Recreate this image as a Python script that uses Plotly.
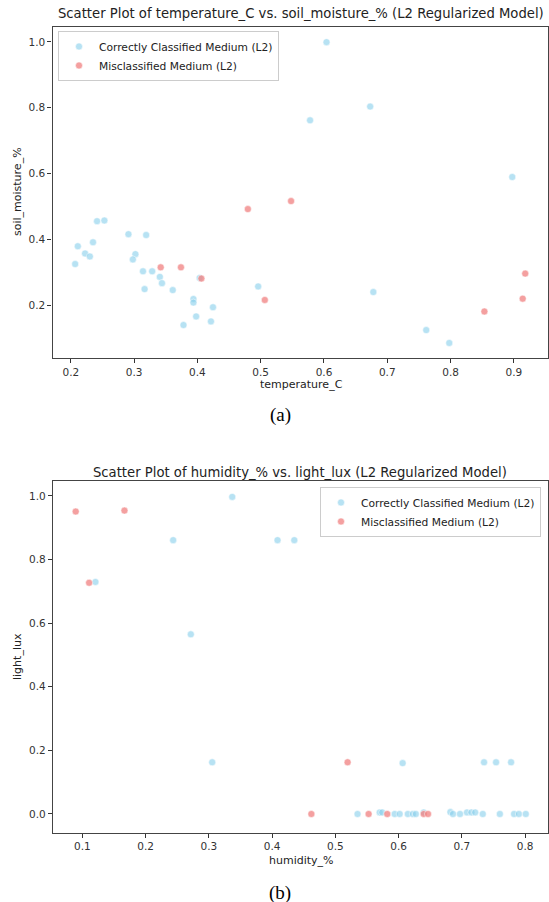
import plotly.graph_objects as go

# ---- Panel (a): temperature_C vs soil_moisture_% ----
a_correct_x = [0.2068, 0.211, 0.2225, 0.230, 0.235, 0.2414, 0.253, 0.291, 0.319, 0.302,
               0.298, 0.314, 0.3285, 0.3165, 0.3406, 0.344, 0.361, 0.3937, 0.3937, 0.398,
               0.4246, 0.4214, 0.378, 0.4036, 0.496, 0.604, 0.673, 0.578, 0.8975, 0.678,
               0.7616, 0.798]
a_correct_y = [0.326, 0.380, 0.358, 0.349, 0.392, 0.456, 0.458, 0.4165, 0.414, 0.356,
               0.340, 0.304, 0.304, 0.250, 0.287, 0.268, 0.247, 0.220, 0.209, 0.167,
               0.195, 0.152, 0.141, 0.284, 0.258, 0.999, 0.8036, 0.762, 0.590, 0.241,
               0.1257, 0.0866]
a_mis_x = [0.342, 0.374, 0.4063, 0.4797, 0.548, 0.5065, 0.8535, 0.918, 0.914]
a_mis_y = [0.316, 0.316, 0.282, 0.4927, 0.517, 0.217, 0.182, 0.297, 0.221]

# ---- Panel (b): humidity_% vs light_lux ----
b_correct_x = [0.1206, 0.2435, 0.3369, 0.4085, 0.435, 0.2714, 0.3052, 0.6063, 0.735, 0.754,
               0.7777, 0.535, 0.570, 0.574, 0.5937, 0.6016, 0.6145, 0.6224, 0.6271, 0.6396,
               0.6818, 0.6859, 0.697, 0.708, 0.715, 0.721, 0.733, 0.760, 0.7825, 0.790, 0.801]
b_correct_y = [0.7296, 0.861, 0.997, 0.861, 0.861, 0.565, 0.1626, 0.160, 0.1626, 0.1626,
               0.1626, 0.0, 0.005, 0.005, 0.0, 0.0, 0.0, 0.0, 0.0, 0.005,
               0.006, 0.0, 0.0, 0.005, 0.005, 0.005, 0.0, 0.0, 0.0, 0.0, 0.0]
b_mis_x = [0.0894, 0.1106, 0.1665, 0.5193, 0.462, 0.5525, 0.582, 0.6396, 0.6464]
b_mis_y = [0.951, 0.727, 0.954, 0.1626, 0.0, 0.0, 0.0, 0.0, 0.0]

a_xticks = [0.2, 0.3, 0.4, 0.5, 0.6, 0.7, 0.8, 0.9]
a_yticks = [0.2, 0.4, 0.6, 0.8, 1.0]
b_xticks = [0.1, 0.2, 0.3, 0.4, 0.5, 0.6, 0.7, 0.8]
b_yticks = [0.0, 0.2, 0.4, 0.6, 0.8, 1.0]

W, H = 549, 902
BLUE = "rgba(135,206,235,0.6)"
RED = "rgba(240,128,128,0.75)"
FONT = "DejaVu Sans"

def px_x(p):
    return p / W

def px_y(p):
    return 1 - p / H

fig = go.Figure()
mk = dict(size=7, line=dict(color="white", width=0.5))
fig.add_trace(go.Scatter(x=a_correct_x, y=a_correct_y, mode="markers",
                         name="Correctly Classified Medium (L2)",
                         marker=dict(color=BLUE, **mk), xaxis="x", yaxis="y", legend="legend"))
fig.add_trace(go.Scatter(x=a_mis_x, y=a_mis_y, mode="markers",
                         name="Misclassified Medium (L2)",
                         marker=dict(color=RED, **mk), xaxis="x", yaxis="y", legend="legend"))
fig.add_trace(go.Scatter(x=b_correct_x, y=b_correct_y, mode="markers",
                         name="Correctly Classified Medium (L2)",
                         marker=dict(color=BLUE, **mk), xaxis="x2", yaxis="y2", legend="legend2"))
fig.add_trace(go.Scatter(x=b_mis_x, y=b_mis_y, mode="markers",
                         name="Misclassified Medium (L2)",
                         marker=dict(color=RED, **mk), xaxis="x2", yaxis="y2", legend="legend2"))

axis_common = dict(showline=True, mirror=True, linecolor="#444", linewidth=1.3,
                   ticks="outside", ticklen=4, tickcolor="#333", tickwidth=1,
                   showgrid=False, zeroline=False,
                   tickfont=dict(family=FONT, size=10.5, color="#333"), tickformat=".1f")

fig.update_layout(
    width=W, height=H,
    margin=dict(l=0, r=0, t=0, b=0),
    paper_bgcolor="white", plot_bgcolor="white",
    xaxis=dict(domain=[px_x(52.5), px_x(548)], range=[0.171, 0.954], tickvals=a_xticks,
               anchor="y", **axis_common),
    yaxis=dict(domain=[px_y(358), px_y(27)], range=[0.041, 1.045], tickvals=a_yticks,
               anchor="x", **axis_common),
    xaxis2=dict(domain=[px_x(53), px_x(548.3)], range=[0.0535, 0.8366], tickvals=b_xticks,
                anchor="y2", **axis_common),
    yaxis2=dict(domain=[px_y(832.6), px_y(481)], range=[-0.0585, 1.047], tickvals=b_yticks,
                anchor="x2", **axis_common),
    legend=dict(x=px_x(58), y=px_y(31), xanchor="left", yanchor="top",
                bgcolor="rgba(255,255,255,0.8)", bordercolor="#ccc", borderwidth=1,
                font=dict(family=FONT, size=10.7, color="#222"), itemwidth=30,
                tracegroupgap=0),
    legend2=dict(x=px_x(541), y=px_y(487), xanchor="right", yanchor="top",
                 bgcolor="rgba(255,255,255,0.8)", bordercolor="#ccc", borderwidth=1,
                 font=dict(family=FONT, size=10.7, color="#222"), itemwidth=30,
                 tracegroupgap=0),
)

def ann(text, x, y, size, family=FONT, angle=0, color="#222"):
    fig.add_annotation(text=text, x=px_x(x), y=px_y(y), xref="paper", yref="paper",
                       showarrow=False, xanchor="center", yanchor="middle",
                       textangle=angle, font=dict(family=family, size=size, color=color))

ann("Scatter Plot of temperature_C vs. soil_moisture_% (L2 Regularized Model)", 301, 14, 13.2)
ann("temperature_C", 301, 385, 11)
ann("soil_moisture_%", 17, 192, 11, angle=-90)
ann("(a)", 280, 415, 19, family="Liberation Serif", color="#000")

ann("Scatter Plot of humidity_% vs. light_lux (L2 Regularized Model)", 300, 472, 13.2)
ann("humidity_%", 301, 860, 11)
ann("light_lux", 17, 657, 11, angle=-90)
ann("(b)", 280, 893, 19, family="Liberation Serif", color="#000")

fig.write_html("out.html")
